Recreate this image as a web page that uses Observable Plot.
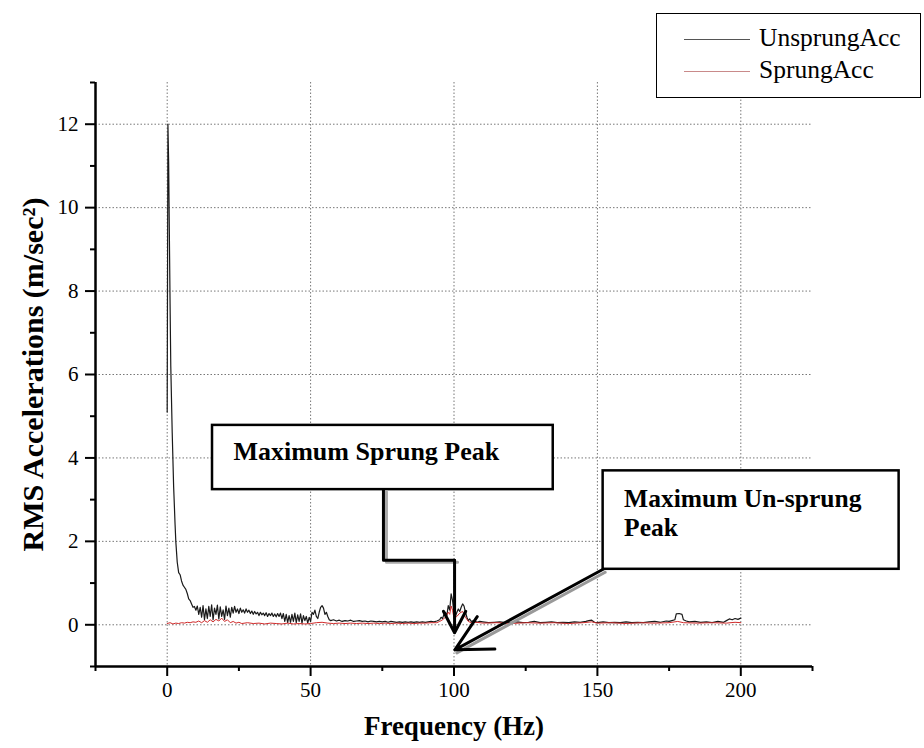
<!DOCTYPE html>
<html>
<head>
<meta charset="utf-8">
<script src="https://cdn.jsdelivr.net/npm/d3@7"></script>
<script src="https://cdn.jsdelivr.net/npm/@observablehq/plot@0.6"></script>
<style>
  body { margin: 0; background: #fff; }
  #wrap { position: relative; width: 924px; height: 748px; font-family: "Liberation Serif", serif; }
  #legend { position: absolute; left: 656px; top: 13px; width: 265px; height: 85px; border: 1.5px solid #000; background: #fff; box-sizing: border-box; }
  .lg-line { position: absolute; left: 27px; width: 66px; height: 0; }
  .lg-text { position: absolute; left: 102px; font-size: 25.5px; line-height: 1; color: #000; white-space: nowrap; }
  svg text { font-family: "Liberation Serif", serif; }
</style>
</head>
<body>
<div id="wrap">
  <div id="chart"></div>
  <div id="legend">
    <div class="lg-line" style="top:25px;border-top:1.5px solid #555;"></div>
    <div class="lg-text" style="top:11px;">UnsprungAcc</div>
    <div class="lg-line" style="top:57px;border-top:1.5px solid #c98a8a;"></div>
    <div class="lg-text" style="top:43px;">SprungAcc</div>
  </div>
</div>
<script>
// ---- Data ----
const unsprungHz = [
  0,0.25,0.5,0.75,1,1.25,1.75,2.25,2.75,3,3.5,4,4.5,5,5.5,6,6.5,7,7.5,8,8.5,9,9.5,
  10,10.5,11,11.5,12,12.5,13,13.5,14,14.5,15,15.5,16,16.5,17,17.5,18,18.5,19,19.5,
  20,20.5,21,21.5,22,22.5,23,23.5,24,24.5,25,25.5,26,26.5,27,27.5,28,28.5,29,29.5,
  30,30.5,31,31.5,32,32.5,33,33.5,34,34.5,35,35.5,36,36.5,37,37.5,38,38.5,39,39.5,
  40,40.5,41,41.5,42,42.5,43,43.5,44,44.5,45,45.5,46,46.5,47,47.5,48,48.5,49,49.5,
  50,50.5,51,51.5,52,52.5,53,53.5,54,54.5,55,55.5,56,56.5,
  57,58,59,60,61,62,63,64,65,66,67,68,69,70,71,72,73,74,75,76,77,78,79,80,81,82,83,84,85,86,87,88,89,90,91,92,93,94,
  95,95.5,96,96.5,97,97.5,98,98.5,99,99.5,100,100.5,101,101.5,102,102.5,103,103.5,104,104.5,105,105.5,106,
  107,108,109,110,
  112,114,116,118,120,122,124,126,128,130,132,134,136,138,140,142,144,146,
  147,148,149,150,
  152,154,156,158,160,162,164,166,168,170,172,174,
  175,176,177,177.5,178.5,179.5,180,181,182,
  184,186,188,190,192,194,
  195,196,197,198,199,200
];
const unsprungAcc = [
  5.1,12.0,11.1,9.4,7.7,6.2,4.6,3.3,2.4,2.0,1.5,1.25,1.2,1.05,0.95,0.9,0.85,0.75,0.62,0.58,0.5,0.42,0.44,
  0.35,0.45,0.25,0.42,0.18,0.46,0.12,0.38,0.15,0.44,0.2,0.48,0.12,0.4,0.25,0.47,0.14,0.43,0.2,0.36,
  0.13,0.45,0.22,0.4,0.18,0.42,0.28,0.44,0.3,0.38,0.27,0.4,0.3,0.36,0.28,0.38,0.3,0.35,0.27,0.33,
  0.25,0.32,0.26,0.3,0.22,0.3,0.24,0.28,0.22,0.29,0.2,0.27,0.22,0.28,0.2,0.26,0.19,0.27,0.2,0.28,
  0.15,0.27,0.08,0.25,0.05,0.22,0.06,0.25,0.08,0.28,0.05,0.24,0.08,0.26,0.04,0.22,0.1,0.2,0.04,0.18,
  0.08,0.3,0.25,0.35,0.2,0.15,0.3,0.42,0.46,0.4,0.25,0.3,0.2,0.12,
  0.1,0.12,0.09,0.11,0.08,0.1,0.09,0.11,0.08,0.09,0.1,0.08,0.09,0.07,0.09,0.08,0.07,0.08,0.07,0.08,0.06,0.08,0.07,0.06,0.07,0.06,0.07,0.06,0.07,0.06,0.07,0.06,0.07,0.06,0.07,0.08,0.07,0.09,
  0.12,0.18,0.15,0.25,0.3,0.22,0.46,0.35,0.74,0.58,0.26,0.2,0.3,0.38,0.32,0.42,0.5,0.45,0.3,0.18,0.1,0.14,0.08,
  0.1,0.06,0.08,0.07,
  0.05,0.06,0.07,0.05,0.06,0.07,0.05,0.06,0.08,0.05,0.06,0.07,0.05,0.06,0.05,0.07,0.06,0.08,
  0.1,0.11,0.06,0.05,
  0.07,0.05,0.06,0.05,0.07,0.05,0.06,0.05,0.07,0.08,0.06,0.09,
  0.08,0.1,0.12,0.26,0.27,0.25,0.12,0.09,0.07,
  0.08,0.06,0.07,0.05,0.08,0.06,
  0.1,0.14,0.12,0.15,0.13,0.16
];
const sprungHz = [
  0,1,2,3,4,5,6,7,8,9,10,11,12,13,14,15,16,17,18,19,20,21,22,23,24,25,26,
  28,30,32,34,36,38,40,42,44,46,48,50,52,54,56,58,60,62,64,66,68,70,72,74,76,78,80,82,84,86,88,90,92,94,
  95,96,97,98,98.5,99,99.5,100,101,102,103,104,105,106,108,110,
  115,120,125,130,135,140,145,148,150,155,160,165,170,175,178,180,185,190,195,198,200
];
const sprungAcc = [
  0.03,0.05,0.02,0.04,0.03,0.05,0.04,0.06,0.05,0.07,0.06,0.09,0.05,0.1,0.06,0.12,0.07,0.13,0.09,0.16,0.08,0.12,0.05,0.08,0.04,0.06,0.03,
  0.05,0.03,0.04,0.02,0.04,0.03,0.02,0.04,0.02,0.03,0.02,0.03,0.05,0.06,0.04,0.03,0.04,0.03,0.04,0.03,0.04,0.03,0.04,0.03,0.04,0.03,0.04,0.03,0.04,0.03,0.04,0.04,0.05,0.05,
  0.08,0.12,0.18,0.3,0.25,0.45,0.35,0.15,0.2,0.28,0.32,0.18,0.08,0.05,0.06,0.04,
  0.05,0.03,0.05,0.04,0.05,0.03,0.05,0.07,0.04,0.05,0.03,0.05,0.04,0.05,0.08,0.05,0.04,0.05,0.04,0.06,0.05
];
const xMajorTicks = [0, 50, 100, 150, 200];
const xMinorTicks = [-25, 25, 75, 125, 175, 225];
const yMajorTicks = [0, 2, 4, 6, 8, 10, 12];
const yMinorTicks = [-1, 1, 3, 5, 7, 9, 11, 13];
const xTitle = "Frequency (Hz)";
const yTitle = "RMS Accelerations (m/sec²)";
const noteSprung = ["Maximum Sprung Peak"];
const noteUnsprung = ["Maximum Un-sprung", "Peak"];

if (unsprungHz.length !== unsprungAcc.length) console.error("unsprung mismatch", unsprungHz.length, unsprungAcc.length);
if (sprungHz.length !== sprungAcc.length) console.error("sprung mismatch", sprungHz.length, sprungAcc.length);

const unsprung = unsprungHz.map((f, i) => ({f, v: unsprungAcc[i]}));
const sprung = sprungHz.map((f, i) => ({f, v: sprungAcc[i]}));

// annotation geometry (data space)
const box1 = {x1: 15.8, x2: 134.6, y1: 3.24, y2: 4.78};
const box2 = {x1: 152.0, x2: 255.2, y1: 1.33, y2: 3.69};
const conn1 = [{f: 75.4, v: 3.24}, {f: 75.4, v: 1.55}, {f: 100.2, v: 1.55}];
const arrow1 = {x1: 100.2, y1: 1.55, x2: 100.2, y2: -0.19};
const arrow2 = {x1: 152.0, y1: 1.33, x2: 100.3, y2: -0.6};

const font = "Liberation Serif";
const gridStyle = {stroke: "#777", strokeOpacity: 1, strokeWidth: 1, strokeDasharray: "1.5,2"};
const bold = {fontFamily: font, fontWeight: "bold", fill: "#000"};

const chart = Plot.plot({
  width: 924,
  height: 748,
  marginLeft: 95,
  marginTop: 82,
  marginRight: 112,
  marginBottom: 82,
  style: {fontFamily: font, color: "#000", background: "#fff", overflow: "visible"},
  x: {domain: [-25, 225]},
  y: {domain: [-1, 13]},
  marks: [
    Plot.gridX(xMajorTicks, gridStyle),
    Plot.gridY(yMajorTicks, gridStyle),
    Plot.line(unsprung, {x: "f", y: "v", stroke: "#1a1a1a", strokeWidth: 1.2}),
    Plot.line(sprung, {x: "f", y: "v", stroke: "#d02a2a", strokeWidth: 1}),
    Plot.ruleX([-25], {stroke: "#000", strokeWidth: 2.5}),
    Plot.ruleY([-1], {stroke: "#000", strokeWidth: 2.5}),
    Plot.axisX(xMajorTicks, {tickSize: 10, tickPadding: 6, fontSize: 21, fontFamily: font, strokeWidth: 2, label: null}),
    Plot.axisX(xMinorTicks, {tickSize: 5, tickFormat: () => "", strokeWidth: 2, label: null}),
    Plot.axisY(yMajorTicks, {tickSize: 10, tickPadding: 7, fontSize: 21, fontFamily: font, strokeWidth: 2, label: null}),
    Plot.axisY(yMinorTicks, {tickSize: 5, tickFormat: () => "", strokeWidth: 2, label: null}),
    Plot.text([xTitle], {...bold, frameAnchor: "bottom", dy: 60, fontSize: 27, lineAnchor: "middle", textAnchor: "middle"}),
    Plot.text([yTitle], {...bold, frameAnchor: "left", dx: -62, rotate: -90, fontSize: 30, lineAnchor: "middle", textAnchor: "middle"}),
    // annotation 1
    Plot.rect([box1], {x1: "x1", x2: "x2", y1: "y1", y2: "y2", fill: "#fff", stroke: "#000", strokeWidth: 2.5}),
    Plot.text(noteSprung, {...bold, x: 23.1, y: 4.15, text: d => d, textAnchor: "start", lineAnchor: "middle", fontSize: 26}),
    Plot.line(conn1, {x: "f", y: "v", stroke: "#aaa", strokeWidth: 3, dx: 3, dy: 2}),
    Plot.line(conn1, {x: "f", y: "v", stroke: "#000", strokeWidth: 3}),
    Plot.arrow([arrow1], {x1: "x1", y1: "y1", x2: "x2", y2: "y2", stroke: "#000", strokeWidth: 3, headLength: 20, headAngle: 55}),
    // annotation 2
    Plot.rect([box2], {x1: "x1", x2: "x2", y1: "y1", y2: "y2", fill: "#fff", stroke: "#000", strokeWidth: 2.5}),
    Plot.text([noteUnsprung[0]], {...bold, x: 159.3, y: 3.02, text: d => d, textAnchor: "start", lineAnchor: "middle", fontSize: 25.5}),
    Plot.text([noteUnsprung[1]], {...bold, x: 159.3, y: 2.32, text: d => d, textAnchor: "start", lineAnchor: "middle", fontSize: 25.5}),
    Plot.arrow([arrow2], {x1: "x1", y1: "y1", x2: "x2", y2: "y2", stroke: "#999", strokeWidth: 3, dx: 2, dy: 3, headLength: 0}),
    Plot.arrow([arrow2], {x1: "x1", y1: "y1", x2: "x2", y2: "y2", stroke: "#000", strokeWidth: 3, headLength: 20, headAngle: 55})
  ]
});
document.getElementById("chart").appendChild(chart);
</script>
</body>
</html>
